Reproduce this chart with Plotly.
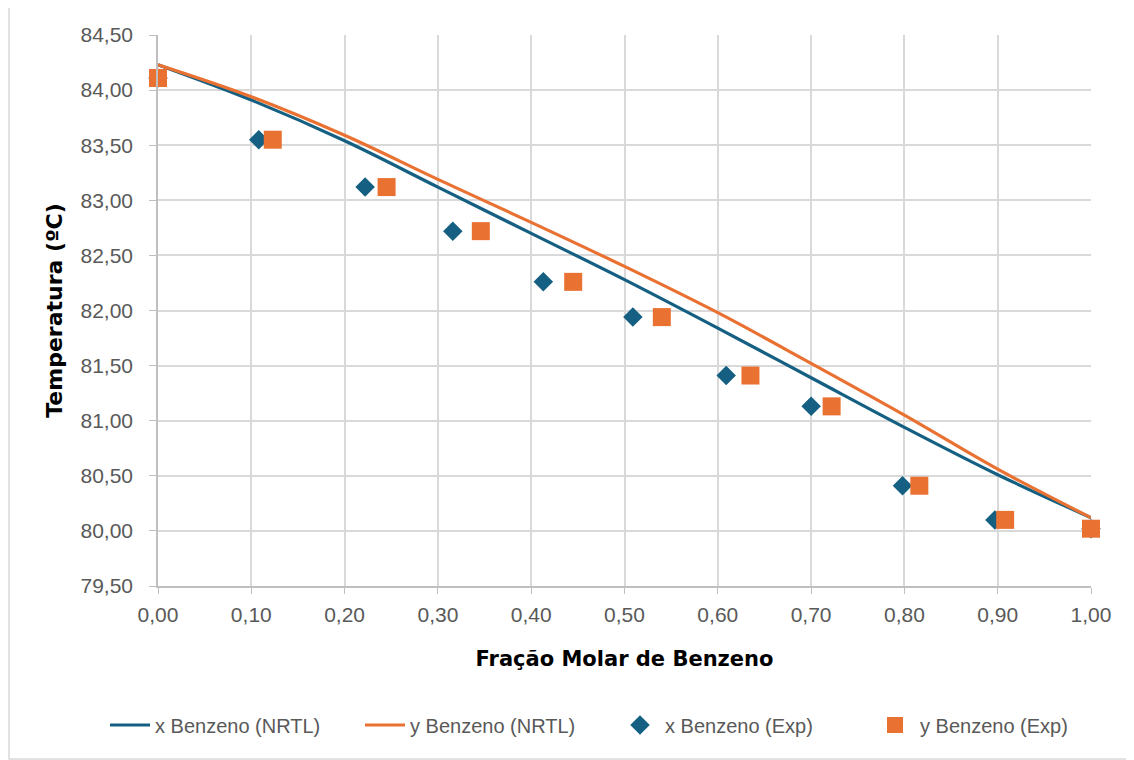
import plotly.graph_objects as go

# NRTL curves
frac_nrtl = [0.0, 0.1, 0.2, 0.3, 0.4, 0.5, 0.6, 0.7, 0.8, 0.9, 1.0]
T_x_nrtl = [84.23, 83.91, 83.54, 83.12, 82.70, 82.28, 81.84, 81.39, 80.94, 80.51, 80.12]
T_y_nrtl = [84.23, 83.94, 83.59, 83.19, 82.80, 82.40, 81.98, 81.52, 81.05, 80.56, 80.12]

# Experimental
x_exp = [0.0, 0.108, 0.222, 0.316, 0.413, 0.509, 0.609, 0.700, 0.798, 0.897, 1.0]
y_exp = [0.0, 0.123, 0.245, 0.346, 0.445, 0.540, 0.635, 0.722, 0.816, 0.908, 1.0]
T_exp = [84.11, 83.55, 83.12, 82.72, 82.26, 81.94, 81.41, 81.13, 80.41, 80.10, 80.02]

x_ticks = [0.0, 0.1, 0.2, 0.3, 0.4, 0.5, 0.6, 0.7, 0.8, 0.9, 1.0]
y_ticks = [79.5, 80.0, 80.5, 81.0, 81.5, 82.0, 82.5, 83.0, 83.5, 84.0, 84.5]

BLUE = "#156082"
ORANGE = "#E97132"
TXT = "#595959"
FONT = "Liberation Sans"
TFONT = "DejaVu Sans"

W, H = 1126, 752
ML, MR, MT, MB = 150, 43, 27, 174
PW, PH = W - ML - MR, H - MT - MB


def fmt(v):
    return f"{v:.2f}".replace(".", ",")


fig = go.Figure()
fig.add_trace(go.Scatter(x=frac_nrtl, y=T_x_nrtl, mode="lines", name="x Benzeno (NRTL)",
                         line=dict(color=BLUE, width=3.2, shape="spline")))
fig.add_trace(go.Scatter(x=frac_nrtl, y=T_y_nrtl, mode="lines", name="y Benzeno (NRTL)",
                         line=dict(color=ORANGE, width=3.2, shape="spline")))
fig.add_trace(go.Scatter(x=x_exp, y=T_exp, mode="markers", name="x Benzeno (Exp)", cliponaxis=False,
                         marker=dict(symbol="diamond", color=BLUE, size=15)))
fig.add_trace(go.Scatter(x=y_exp, y=T_exp, mode="markers", name="y Benzeno (Exp)", cliponaxis=False,
                         marker=dict(symbol="square", color=ORANGE, size=18)))

fig.update_layout(
    width=W, height=H,
    paper_bgcolor="white", plot_bgcolor="white",
    margin=dict(l=ML, r=MR, t=MT, b=MB, autoexpand=False),
    font=dict(family=FONT, color=TXT, size=20),
    showlegend=True,
    legend=dict(orientation="h", x=-53 / PW, xanchor="left", y=-139 / PH, yanchor="middle",
                font=dict(size=20, color=TXT), entrywidth=200, itemwidth=40),
    shapes=[dict(type="rect", xref="paper", yref="paper",
                 x0=-(ML - 1) / PW, x1=1 + (MR + 2) / PW, y0=-(MB - 1) / PH, y1=1 + (MT + 2) / PH,
                 line=dict(color="#d9d9d9", width=1.5), layer="below")],
)
fig.update_xaxes(range=[0, 1], tickvals=x_ticks, ticktext=[fmt(v) for v in x_ticks],
                 showgrid=True, gridcolor="#d9d9d9", gridwidth=1.5,
                 showline=True, linecolor="#bfbfbf", linewidth=1.5,
                 ticks="outside", tickcolor="#bfbfbf", ticklen=6, ticklabelstandoff=3,
                 zeroline=False, tickfont=dict(size=21, color=TXT),
                 title=dict(text="<b>Fração Molar de Benzeno</b>",
                            font=dict(family=TFONT, size=21, color="black"), standoff=26))
fig.update_yaxes(range=[79.5, 84.5], tickvals=y_ticks, ticktext=[fmt(v) for v in y_ticks],
                 showgrid=True, gridcolor="#d9d9d9", gridwidth=1.5,
                 showline=True, linecolor="#bfbfbf", linewidth=1.5,
                 ticks="outside", tickcolor="#bfbfbf", ticklen=7, ticklabelstandoff=12,
                 zeroline=False, tickfont=dict(size=21, color=TXT),
                 title=dict(text="<b>Temperatura (ºC)</b>",
                            font=dict(family=TFONT, size=22, color="black"), standoff=12))

fig.write_html("out.html")
